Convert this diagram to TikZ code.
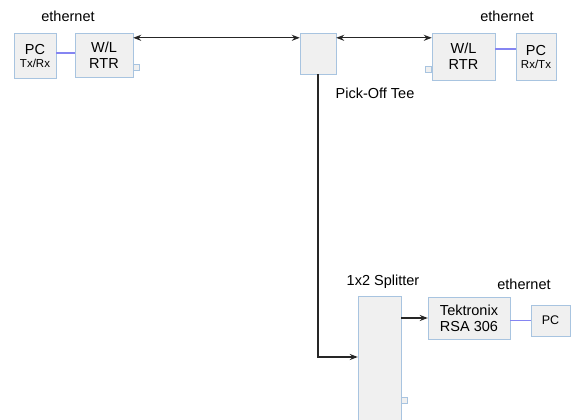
\documentclass[tikz,border=0pt]{standalone}
\usepackage{fontspec}
\setmainfont{Liberation Sans}
\definecolor{boxedge}{rgb}{0.66,0.77,0.88}
\definecolor{boxfill}{rgb}{0.94,0.94,0.94}
\definecolor{netline}{rgb}{0.52,0.52,0.95}
\usetikzlibrary{arrows.meta,positioning}
\tikzset{
	unit/.style={
		rectangle,
		draw=boxedge,
		fill=boxfill,
		inner sep=0pt,
		align=center,
		font=\fontsize{14.5}{16}\selectfont
	},
	port/.style={
		rectangle,
		draw=boxedge,
		fill=boxfill,
		inner sep=0pt,
		minimum size=6pt
	},
	caption/.style={
		font=\fontsize{14.5}{16}\selectfont
	},
	rfline/.style={
		draw=black!85,
		line width=1.3pt,
		>={Stealth[length=8pt,width=6pt]}
	},
	lan/.style={
		draw=netline,
		line width=1.2pt
	},
}

\begin{document}
\begin{tikzpicture}[x=1pt,y=-1pt]
\clip (0,0) rectangle (571,420);
\node [unit,minimum width=42pt,minimum height=45pt] (pcL) at (35,55.5) {PC\\[-3pt]{\fontsize{11.5}{12}\selectfont Tx/Rx}};
\node [unit,minimum width=58pt,minimum height=44pt] (rtrL) at (104,55) {W/L\\RTR};
\node [unit,minimum width=36pt,minimum height=41pt] (tee) at (318,53.5) {};
\node [unit,minimum width=63pt,minimum height=47pt] (rtrR) at (463.5,56.5) {W/L\\RTR};
\node [unit,minimum width=40pt,minimum height=47pt] (pcR) at (536,56.5) {PC\\[-3pt]{\fontsize{11.5}{12}\selectfont Rx/Tx}};
\node [unit,minimum width=43pt,minimum height=130pt] (split) at (379.5,361) {};
\node [unit,minimum width=82pt,minimum height=42pt] (tek) at (469,318) {Tektronix\\RSA 306};
\node [unit,minimum width=39pt,minimum height=31pt,font=\fontsize{12.5}{13}\selectfont] (pcB) at (550.5,320.5) {PC};

% small ports
\node [port,anchor=west] (portL) at (rtrL.east |- 0,67.5) {};
\node [port,anchor=east] (portR) at (rtrR.west |- 0,69) {};
\node [port,anchor=west] (portS) at (split.east |- 0,400) {};

% labels
\node [caption] (ethL) at (68,16) {ethernet};
\node [caption] (ethR) at (507,16) {ethernet};
\node [caption] (ethB) at (524,284) {ethernet};
\node [caption] (teelbl) at (375,93) {Pick-Off Tee};
\node [caption] (splitlbl) at (383,282) {1x2 Splitter};

\path[rfline]
([yshift=-5pt]rtrL.north east) edge[<->] ([yshift=-5pt]tee.north west)
([yshift=-5pt]tee.north east) edge[<->] ([yshift=-5pt]rtrR.north west)
;
\draw[rfline,->] (tee.south) |- ([yshift=4pt]split.west);
\draw[rfline,->] (split.east |- tek.west) -- (tek.west);

\draw[lan] (pcL.east |- 0,53) -- (rtrL.west |- 0,53);
\draw[lan] (rtrR.east |- 0,49) -- (pcR.west |- 0,49);
\draw[lan] (tek.east |- pcB.west) -- (pcB.west);
\end{tikzpicture}
\end{document}
